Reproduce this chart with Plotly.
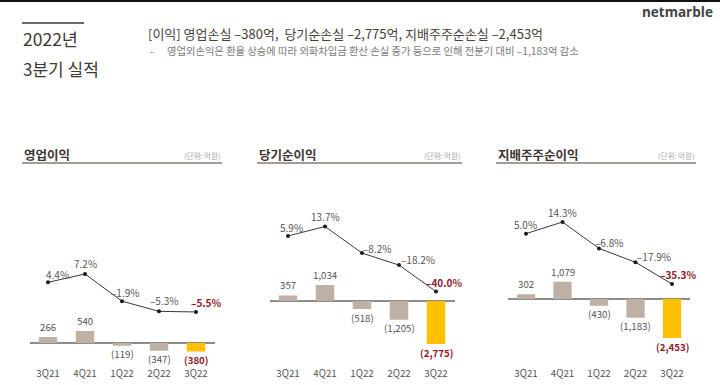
import plotly.graph_objects as go

W, H = 720, 385
FONT = "Noto Sans CJK KR"

quarters = ["3Q21", "4Q21", "1Q22", "2Q22", "3Q22"]

panel_titles = ["영업이익", "당기순이익", "지배주주순이익"]
unit_label = "(단위: 억원)"

op_income = [266, 540, -119, -347, -380]
op_margin = [4.4, 7.2, -1.9, -5.3, -5.5]

net_income = [357, 1034, -518, -1205, -2775]
net_margin = [5.9, 13.7, -8.2, -18.2, -40.0]

ctrl_income = [302, 1079, -430, -1183, -2453]
ctrl_margin = [5.0, 14.3, -6.8, -17.9, -35.3]

header_title = "2022년"
header_sub = "3분기 실적"
headline = "[이익] 영업손실 –380억,  당기순손실 –2,775억, 지배주주순손실 –2,453억"
subline = "영업외손익은 환율 상승에 따라 외화차입금 환산 손실 증가 등으로 인해 전분기 대비 –1,183억 감소"
brand = "netmarble"

# ---- layout parameters (pixels) ----
TOP_PX, BOT_PX = 170, 366
panels = [
    dict(bars=op_income, pct=op_margin, x0=29.5, x1=214.5, bzero=343, bppu=0.0222,
         lzero=295.5, lppu=2.99, title_x=22, line_x1=222,
         poff=[(9, -8), (0, -10), (3, -9), (5, -11), (10, -9)]),
    dict(bars=net_income, pct=net_margin, x0=269.5, x1=454.5, bzero=301, bppu=0.0155,
         lzero=243.1, lppu=1.21, title_x=257, line_x1=462,
         poff=[(3, -8), (0, -10), (15, -5), (19, -6), (8, -9)]),
    dict(bars=ctrl_income, pct=ctrl_margin, x0=507.75, x1=690.25, bzero=299, bppu=0.0159,
         lzero=239.9, lppu=1.25, title_x=496, line_x1=696,
         poff=[(-1, -9), (0, -10), (10, -6), (18, -6), (6, -10)]),
]

BAR_GRAY = "#bfb0a5"
BAR_YELLOW = "#ffc000"
RED = "#8e1b2c"
TXT = "#555555"
DARK = "#3d3632"


def px(x):
    return x / W


def py(y):
    return 1 - y / H


def yrange(zero, ppu):
    return [-(BOT_PX - zero) / ppu, (zero - TOP_PX) / ppu]


def fmt_val(v):
    return f"{v:,}" if v >= 0 else f"({-v:,})"


def fmt_pct(p):
    s = f"{abs(p):.1f}%"
    return s if p >= 0 else "–" + s


fig = go.Figure()
annotations = []
shapes = []
layout_axes = {}

for i, p in enumerate(panels):
    n = i + 1
    xa = "x" if n == 1 else f"x{n}"
    ya = "y" if n == 1 else f"y{n}"
    yl = f"y{n + 3}"
    colors = [BAR_GRAY] * (len(quarters) - 1) + [BAR_YELLOW]
    fig.add_trace(go.Bar(x=quarters, y=p["bars"], xaxis=xa, yaxis=ya,
                         marker=dict(color=colors, line=dict(width=0)),
                         width=0.5, showlegend=False, hoverinfo="skip"))
    fig.add_trace(go.Scatter(x=quarters, y=p["pct"], xaxis=xa, yaxis=yl,
                             mode="lines+markers",
                             line=dict(color="#3a3a3a", width=1),
                             marker=dict(color="#1a1a1a", size=4),
                             showlegend=False, hoverinfo="skip"))
    dom_y = [py(BOT_PX), py(TOP_PX)]
    layout_axes[("xaxis" if n == 1 else f"xaxis{n}")] = dict(
        domain=[px(p["x0"]), px(p["x1"])], anchor=ya, type="category",
        range=[-0.5, len(quarters) - 0.5], showgrid=False, showline=False,
        ticks="", tickfont=dict(family=FONT, size=9.8, color=TXT), fixedrange=True)
    layout_axes[("yaxis" if n == 1 else f"yaxis{n}")] = dict(
        domain=dom_y, anchor=xa, range=yrange(p["bzero"], p["bppu"]),
        showgrid=False, showticklabels=False, zeroline=True,
        zerolinecolor="#8c8c8c", zerolinewidth=1.5, showline=False)
    layout_axes[f"yaxis{n + 3}"] = dict(
        overlaying=ya, anchor=xa, range=yrange(p["lzero"], p["lppu"]),
        showgrid=False, showticklabels=False, zeroline=False, showline=False)

    # bar value labels
    for j, (q, v) in enumerate(zip(quarters, p["bars"])):
        last = j == len(quarters) - 1
        annotations.append(dict(
            x=q, y=v, xref=xa, yref=ya, text=fmt_val(v), showarrow=False,
            yshift=10 if v >= 0 else -8.5,
            font=dict(family=FONT, size=9.7, color=RED if last else TXT,
                      weight="bold" if last else "normal")))
    # margin labels
    for j, (q, v) in enumerate(zip(quarters, p["pct"])):
        last = j == len(quarters) - 1
        dx, dy = p["poff"][j]
        annotations.append(dict(
            x=q, y=v, xref=xa, yref=yl, text=fmt_pct(v), showarrow=False,
            xshift=dx, yshift=-dy,
            font=dict(family=FONT, size=10, color=RED if last else TXT,
                      weight="bold" if last else "normal")))
    # panel title & unit
    annotations.append(dict(x=px(p["title_x"]), y=py(154), xref="paper", yref="paper",
                            text=panel_titles[i], showarrow=False, xanchor="left",
                            yanchor="middle",
                            font=dict(family=FONT, size=12.5, color=DARK, weight="bold")))
    annotations.append(dict(x=px(p["line_x1"]), y=py(155), xref="paper", yref="paper",
                            text=unit_label, showarrow=False, xanchor="right",
                            yanchor="middle",
                            font=dict(family=FONT, size=7.5, color="#a8a8a8")))
    shapes.append(dict(type="line", xref="paper", yref="paper",
                       x0=px(p["title_x"]), x1=px(p["line_x1"]), y0=py(163), y1=py(163),
                       line=dict(color="#857a72", width=1.5)))

# header
shapes.append(dict(type="rect", xref="paper", yref="paper", x0=0, x1=1,
                   y0=py(2), y1=1, fillcolor="#111111", line=dict(width=0)))
shapes.append(dict(type="line", xref="paper", yref="paper", x0=px(22), x1=px(84),
                   y0=py(23), y1=py(23), line=dict(color=DARK, width=1.5)))
annotations += [
    dict(x=px(21), y=py(38), text=header_title, xanchor="left", yanchor="middle",
         font=dict(family=FONT, size=17.5, color=DARK)),
    dict(x=px(21), y=py(69), text=header_sub, xanchor="left", yanchor="middle",
         font=dict(family=FONT, size=17, color=DARK)),
    dict(x=px(146), y=py(33.5), text=headline, xanchor="left", yanchor="middle",
         font=dict(family=FONT, size=13, color="#4a403a")),
    dict(x=px(148), y=py(50), text="-", xanchor="left", yanchor="middle",
         font=dict(family=FONT, size=10, color="#7a7a7a")),
    dict(x=px(165), y=py(50), text=subline, xanchor="left", yanchor="middle",
         font=dict(family=FONT, size=10.3, color="#7a7a7a")),
    dict(x=px(715), y=py(12), text=brand, xanchor="right", yanchor="middle",
         font=dict(family="Open Sans", size=13.5, color="#444444", weight="bold")),
]
for a in annotations[-6:]:
    a.update(xref="paper", yref="paper", showarrow=False)

fig.update_layout(
    width=W, height=H, margin=dict(l=0, r=0, t=0, b=0),
    paper_bgcolor="white", plot_bgcolor="rgba(0,0,0,0)",
    annotations=annotations, shapes=shapes, bargap=0.5,
    **layout_axes,
)

fig.write_html("out.html", config={"displayModeBar": False},
               post_script="document.body.style.margin='0';document.body.style.overflow='hidden';")
